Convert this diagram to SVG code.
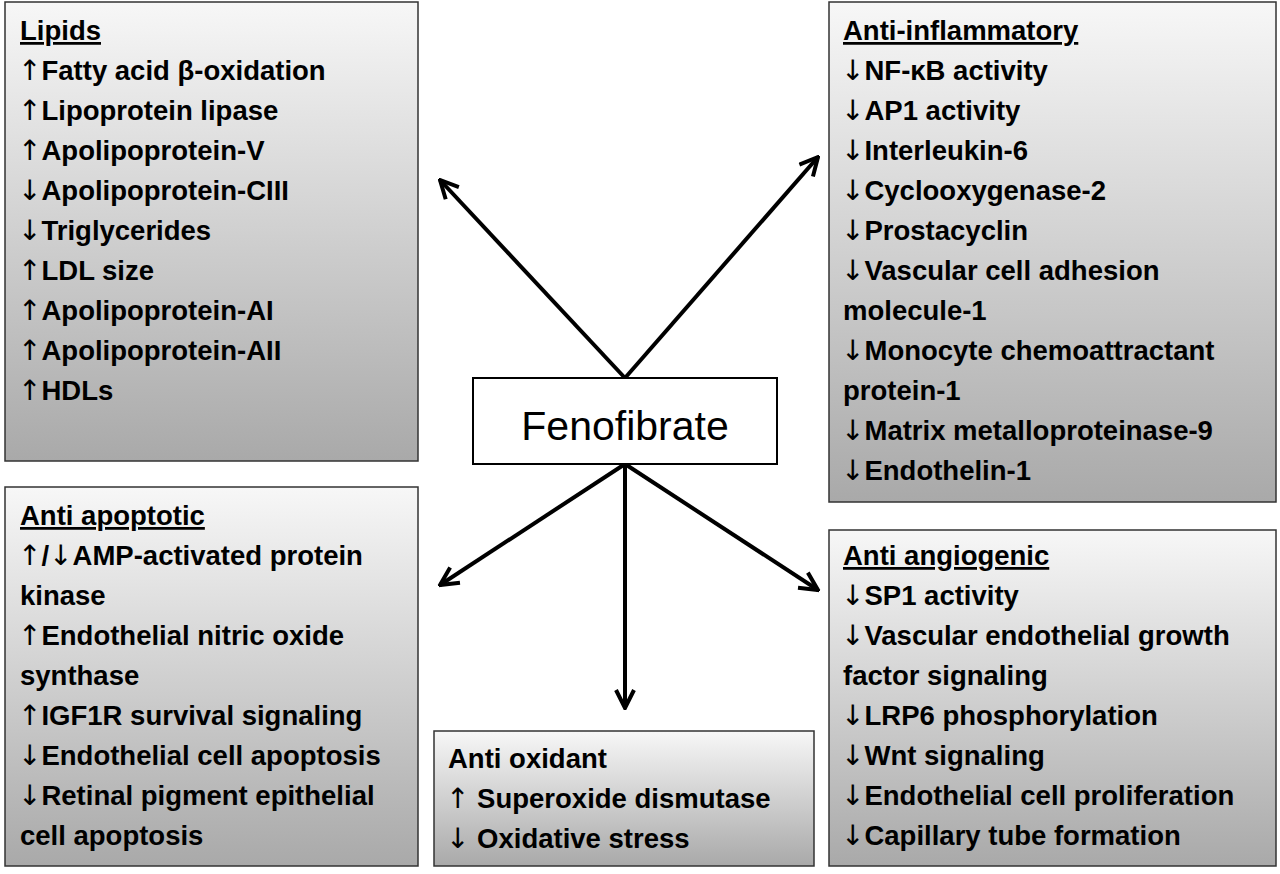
<svg xmlns="http://www.w3.org/2000/svg" width="1280" height="874" viewBox="0 0 1280 874">
<defs>
<linearGradient id="g" x1="0" y1="0" x2="0" y2="1"><stop offset="0" stop-color="#f7f7f7"/><stop offset="1" stop-color="#a9a9a9"/></linearGradient>
<marker id="ah" markerWidth="22" markerHeight="22" refX="20" refY="11" orient="auto" markerUnits="userSpaceOnUse"><path d="M2,2 L20,11 L2,20" fill="none" stroke="#000" stroke-width="4"/></marker>
</defs>
<style>
.b{fill:url(#g);stroke:#333;stroke-width:1.5}
text{font-family:"Liberation Sans",Arial,sans-serif;font-size:27.5px;font-weight:bold;fill:#000}
.t{text-decoration:underline}
.r{font-family:"DejaVu Sans",sans-serif;font-weight:normal;font-size:28px}
.c{stroke:#000;stroke-width:4;fill:none;marker-end:url(#ah)}
</style>
<rect width="1280" height="874" fill="#fff"/>
<g id="connectors">
<line class="c" x1="625" y1="378" x2="440" y2="180"/>
<line class="c" x1="625" y1="378" x2="818" y2="157"/>
<line class="c" x1="625" y1="464" x2="440" y2="585"/>
<line class="c" x1="625" y1="464" x2="818" y2="590"/>
<line class="c" x1="625" y1="464" x2="625" y2="708"/>
</g>
<g id="lipids"><rect class="b" x="5" y="2" width="413" height="459"/>
<text x="20" y="40" class="t">Lipids</text>
<text x="18" y="80"><tspan class="r">↑</tspan>Fatty acid β-oxidation</text>
<text x="18" y="120"><tspan class="r">↑</tspan>Lipoprotein lipase</text>
<text x="18" y="160"><tspan class="r">↑</tspan>Apolipoprotein-V</text>
<text x="18" y="200"><tspan class="r">↓</tspan>Apolipoprotein-CIII</text>
<text x="18" y="240"><tspan class="r">↓</tspan>Triglycerides</text>
<text x="18" y="280"><tspan class="r">↑</tspan>LDL size</text>
<text x="18" y="320"><tspan class="r">↑</tspan>Apolipoprotein-AI</text>
<text x="18" y="360"><tspan class="r">↑</tspan>Apolipoprotein-AII</text>
<text x="18" y="400"><tspan class="r">↑</tspan>HDLs</text></g>
<g id="antiinflammatory"><rect class="b" x="829" y="2" width="447" height="500"/>
<text x="843" y="40" class="t">Anti-inflammatory</text>
<text x="841" y="80"><tspan class="r">↓</tspan>NF-κB activity</text>
<text x="841" y="120"><tspan class="r">↓</tspan>AP1 activity</text>
<text x="841" y="160"><tspan class="r">↓</tspan>Interleukin-6</text>
<text x="841" y="200"><tspan class="r">↓</tspan>Cyclooxygenase-2</text>
<text x="841" y="240"><tspan class="r">↓</tspan>Prostacyclin</text>
<text x="841" y="280"><tspan class="r">↓</tspan>Vascular cell adhesion</text>
<text x="843" y="320">molecule-1</text>
<text x="841" y="360"><tspan class="r">↓</tspan>Monocyte chemoattractant</text>
<text x="843" y="400">protein-1</text>
<text x="841" y="440"><tspan class="r">↓</tspan>Matrix metalloproteinase-9</text>
<text x="841" y="480"><tspan class="r">↓</tspan>Endothelin-1</text></g>
<g id="fenofibrate"><rect x="473" y="378" width="304" height="86" fill="#fff" stroke="#000" stroke-width="2"/>
<text x="625" y="440" text-anchor="middle" style="font-size:41px;font-weight:normal">Fenofibrate</text></g>
<g id="antiapoptotic"><rect class="b" x="5" y="487" width="413" height="379"/>
<text x="20" y="525" class="t">Anti apoptotic</text>
<text x="18" y="565"><tspan class="r">↑</tspan>/<tspan class="r">↓</tspan>AMP-activated protein</text>
<text x="20" y="605">kinase</text>
<text x="18" y="645"><tspan class="r">↑</tspan>Endothelial nitric oxide</text>
<text x="20" y="685">synthase</text>
<text x="18" y="725"><tspan class="r">↑</tspan>IGF1R survival signaling</text>
<text x="18" y="765"><tspan class="r">↓</tspan>Endothelial cell apoptosis</text>
<text x="18" y="805"><tspan class="r">↓</tspan>Retinal pigment epithelial</text>
<text x="20" y="845">cell apoptosis</text></g>
<g id="antioxidant"><rect class="b" x="434" y="731" width="380" height="135"/>
<text x="448" y="768">Anti oxidant</text>
<text x="446" y="808"><tspan class="r">↑</tspan> Superoxide dismutase</text>
<text x="446" y="848"><tspan class="r">↓</tspan> Oxidative stress</text></g>
<g id="antiangiogenic"><rect class="b" x="829" y="530" width="447" height="336"/>
<text x="843" y="565" class="t">Anti angiogenic</text>
<text x="841" y="605"><tspan class="r">↓</tspan>SP1 activity</text>
<text x="841" y="645"><tspan class="r">↓</tspan>Vascular endothelial growth</text>
<text x="843" y="685">factor signaling</text>
<text x="841" y="725"><tspan class="r">↓</tspan>LRP6 phosphorylation</text>
<text x="841" y="765"><tspan class="r">↓</tspan>Wnt signaling</text>
<text x="841" y="805"><tspan class="r">↓</tspan>Endothelial cell proliferation</text>
<text x="841" y="845"><tspan class="r">↓</tspan>Capillary tube formation</text></g>
</svg>
